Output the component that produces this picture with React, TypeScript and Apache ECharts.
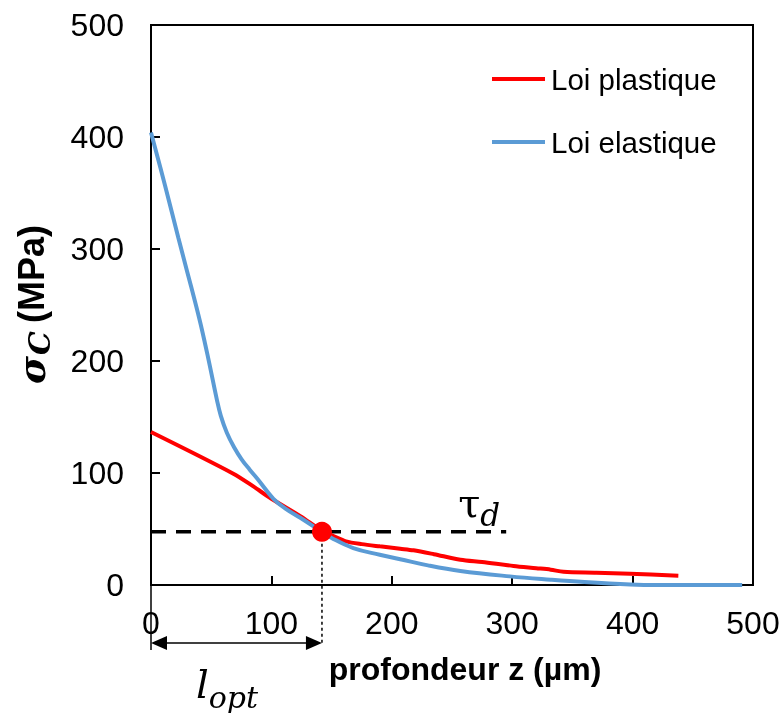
import React, { useEffect, useRef } from "react";
import * as echarts from "echarts";

const xTicks = [0, 100, 200, 300, 400, 500];
const yTicks = [0, 100, 200, 300, 400, 500];

// Loi plastique (red)
const plastX = [0, 68.4, 85, 100, 124, 142, 152, 162, 175, 190, 207, 218, 235, 257, 275, 301, 320, 332, 342.6, 370, 398, 438];
const plastY = [136.6, 99.4, 88, 77, 61.5, 48.5, 43.5, 39, 36.5, 34.5, 32.4, 31, 27.5, 22.6, 20.5, 17, 15, 13.7, 11.8, 11, 10, 8.3];

// Loi elastique (blue)
const elasX = [0, 11.6, 22.7, 30, 36.6, 41, 45, 49, 54.6, 58, 63, 69, 75.4, 82, 89, 101.7, 112, 124, 142, 150, 168, 190, 207, 230, 257, 298, 332, 360, 398, 420, 491];
const elasY = [404, 357, 310, 280, 253, 234, 215, 195, 166, 151, 136, 123, 112, 103, 94, 77, 68, 60, 47.5, 42, 33, 27, 23, 17.5, 12.5, 7.7, 4.7, 2.6, 0.5, 0, 0];

const tauD = 47.5;
const tauEnd = 295;
const lOpt = 142;

const seriesNames = ["Loi plastique", "Loi elastique"];

export default function App() {
  const ref = useRef<HTMLDivElement>(null);
  useEffect(() => {
    if (!ref.current) return;
    const chart = echarts.init(ref.current, null, { renderer: "svg" });
    const sans = "Liberation Sans, Arial, sans-serif";
    const serif = "DejaVu Serif, serif";
    chart.setOption({
      animation: false,
      grid: {
        left: 151, top: 25, right: 30, bottom: 128,
        show: true, borderColor: "#000", borderWidth: 2, backgroundColor: "transparent",
        containLabel: false, outerBoundsMode: "none",
      },
      legend: {
        data: seriesNames,
        orient: "vertical",
        left: 492,
        top: 64,
        padding: 0,
        icon: "rect",
        itemWidth: 53,
        itemHeight: 4,
        itemGap: 33,
        textStyle: { fontSize: 29.5, fontFamily: sans, color: "#000", padding: [0, 0, 0, 1] },
      },
      xAxis: {
        type: "value",
        min: xTicks[0],
        max: xTicks[xTicks.length - 1],
        interval: 100,
        name: "profondeur z (µm)",
        nameLocation: "middle",
        nameGap: 68,
        nameTextStyle: { fontSize: 32, fontWeight: "bold", fontFamily: sans, color: "#000", padding: [0, 0, 0, 26] },
        axisLine: { lineStyle: { color: "#000", width: 2 } },
        axisTick: { inside: true, length: 9, lineStyle: { color: "#000", width: 2 } },
        axisLabel: { fontSize: 32, fontFamily: sans, color: "#000", margin: 22 },
        splitLine: { show: false },
      },
      yAxis: {
        type: "value",
        min: yTicks[0],
        max: yTicks[yTicks.length - 1],
        interval: 100,
        axisLine: { lineStyle: { color: "#000", width: 2 } },
        axisTick: { inside: true, length: 9, lineStyle: { color: "#000", width: 2 } },
        axisLabel: { fontSize: 32, fontFamily: sans, color: "#000", margin: 27 },
        splitLine: { show: false },
      },
      series: [
        {
          name: seriesNames[0],
          type: "line",
          data: plastX.map((x, i) => [x, plastY[i]]),
          symbol: "none",
          smooth: 0.3,
          lineStyle: { color: "#FF0000", width: 4 },
          itemStyle: { color: "#FF0000" },
          z: 3,
        },
        {
          name: seriesNames[1],
          type: "line",
          data: elasX.map((x, i) => [x, elasY[i]]),
          symbol: "none",
          smooth: 0.4,
          lineStyle: { color: "#5B9BD5", width: 4 },
          itemStyle: { color: "#5B9BD5" },
          z: 4,
        },
        {
          name: "tau_d",
          type: "line",
          data: [[0, tauD], [tauEnd, tauD]],
          symbol: "none",
          lineStyle: { color: "#000", width: 3.5, type: [15, 10] },
          z: 2,
        },
        {
          name: "l_opt",
          type: "scatter",
          data: [[lOpt, tauD]],
          symbolSize: 20,
          itemStyle: { color: "#FF0000", opacity: 1 },
          z: 6,
        },
      ],
    });

    const p = (x: number, y: number) => chart.convertToPixel({ gridIndex: 0 }, [x, y]) as number[];
    const [x0, y0] = p(0, 0);
    const [dx, dy] = p(lOpt, tauD);
    const [tx, ty] = p(tauEnd, tauD);
    const ay = y0 + 58;
    chart.setOption({
      graphic: [
        { type: "line", shape: { x1: x0, y1: y0, x2: x0, y2: y0 + 65 }, style: { stroke: "#000", lineWidth: 1.5 } },
        { type: "line", shape: { x1: dx, y1: dy, x2: dx, y2: ay }, style: { stroke: "#000", lineWidth: 1.5, lineDash: [3, 3] } },
        { type: "line", shape: { x1: x0 + 4, y1: ay, x2: dx - 4, y2: ay }, style: { stroke: "#000", lineWidth: 1.5 } },
        { type: "polygon", shape: { points: [[x0, ay], [x0 + 16, ay - 7], [x0 + 16, ay + 7]] }, style: { fill: "#000" } },
        { type: "polygon", shape: { points: [[dx, ay], [dx - 16, ay - 7], [dx - 16, ay + 7]] }, style: { fill: "#000" } },
        {
          type: "group",
          x: 0,
          y: 384,
          rotation: Math.PI / 2,
          children: [
            { type: "text", x: 0, y: 31, style: { text: "σ", fontSize: 38, fontFamily: serif, fontStyle: "italic", fontWeight: "bold", fill: "#000", align: "left", verticalAlign: "middle" } },
            { type: "text", x: 29, y: 39, style: { text: "C", fontSize: 30, fontFamily: serif, fontStyle: "italic", fontWeight: "bold", fill: "#000", align: "left", verticalAlign: "middle" } },
            { type: "text", x: 61, y: 31, style: { text: "(MPa)", fontSize: 36, fontFamily: sans, fontWeight: "bold", fill: "#000", align: "left", verticalAlign: "middle" } },
          ],
        },
        {
          type: "text",
          x: tx - 48,
          y: ty - 49,
          style: {
            text: "{t|τ}{d|d}",
            rich: {
              t: { fontSize: 40, fontFamily: serif, fill: "#000", verticalAlign: "bottom", padding: [0, 0, 8, 0] },
              d: { fontSize: 31, fontFamily: serif, fontStyle: "italic", fill: "#000", verticalAlign: "bottom" },
            },
          },
        },
        {
          type: "text",
          x: 196,
          y: 664,
          style: {
            text: "{l|l}{o|opt}",
            rich: {
              l: { fontSize: 40, fontFamily: serif, fontStyle: "italic", fill: "#000", verticalAlign: "bottom", padding: [0, 0, 8, 0] },
              o: { fontSize: 30, fontFamily: serif, fontStyle: "italic", fill: "#000", verticalAlign: "bottom" },
            },
          },
        },
      ],
    });
    return () => chart.dispose();
  }, []);
  return <div ref={ref} style={{ position: "fixed", left: 0, top: 0, width: 783, height: 713 }} />;
}
